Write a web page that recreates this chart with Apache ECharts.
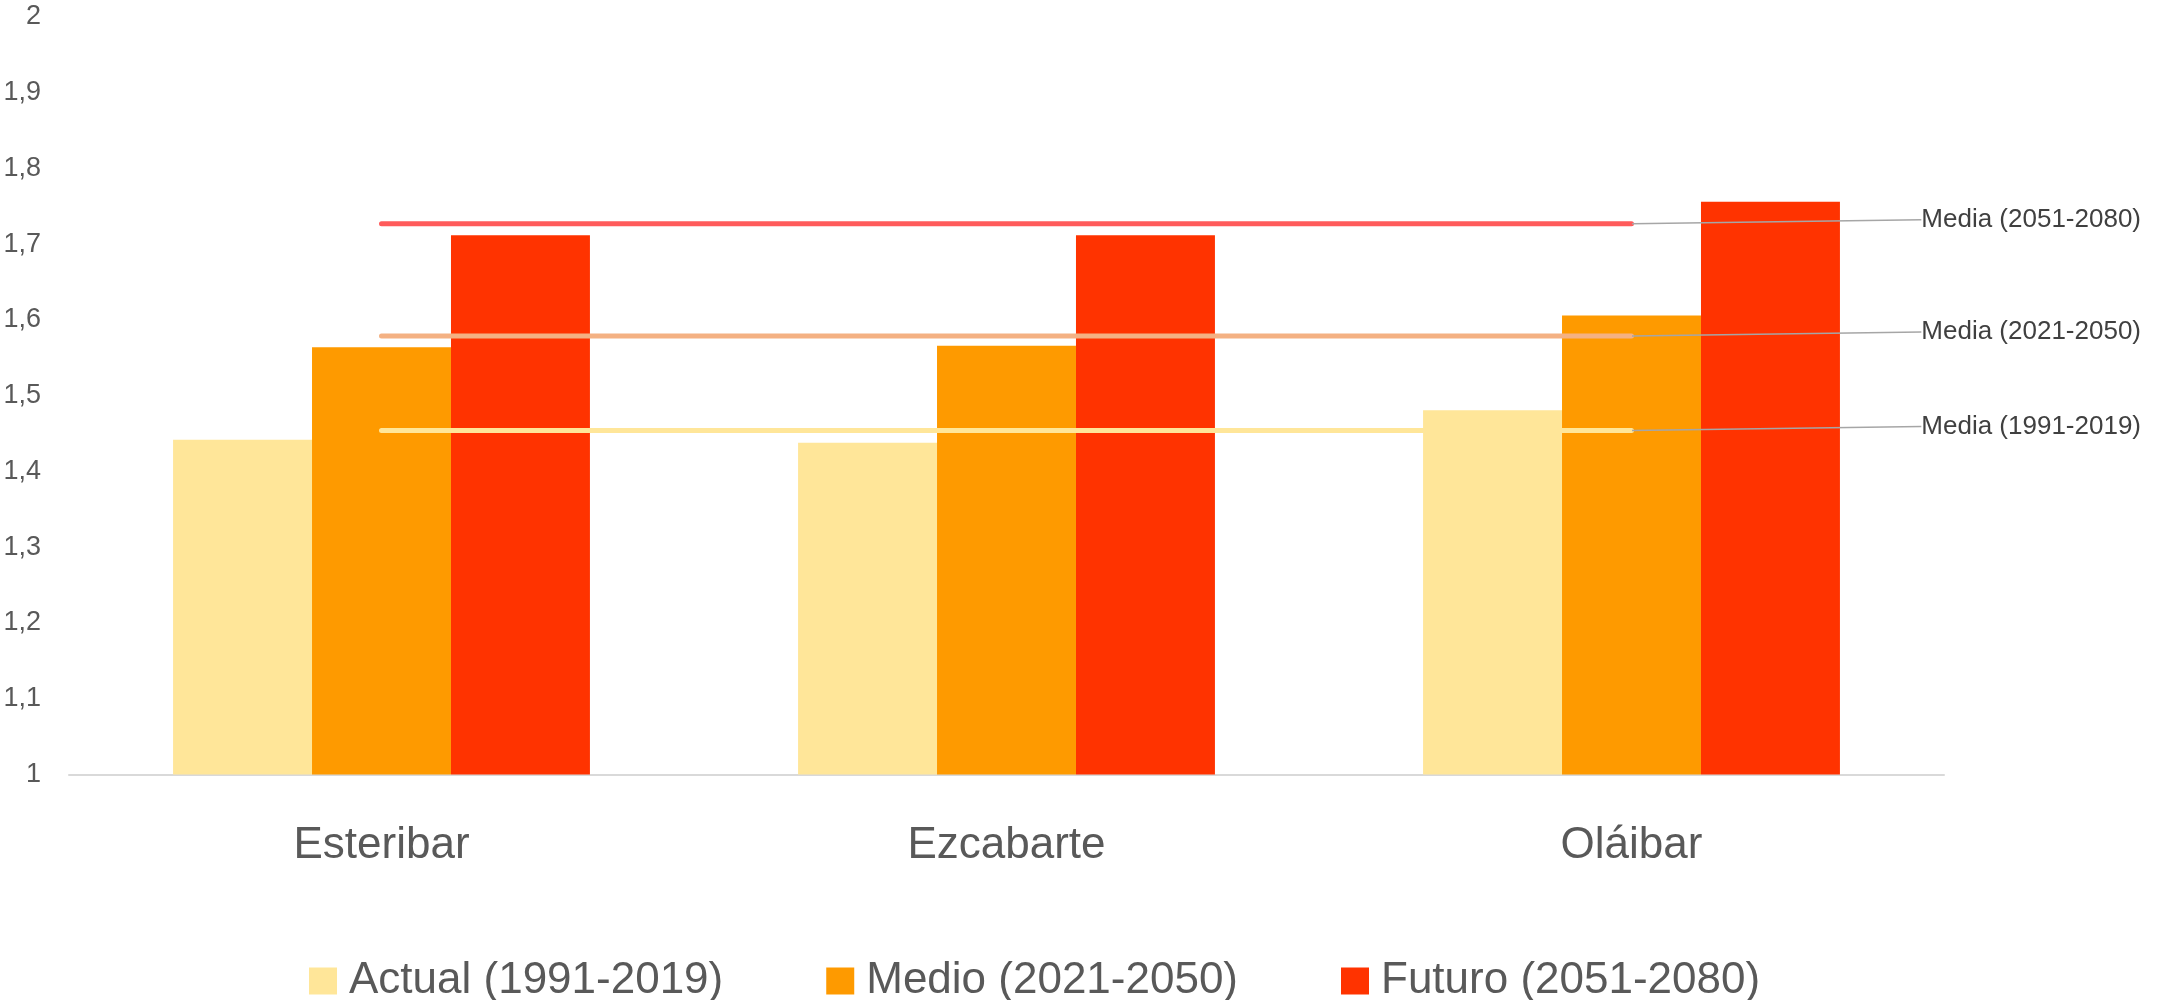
<!DOCTYPE html>
<html>
<head>
<meta charset="utf-8">
<script src="https://cdn.jsdelivr.net/npm/echarts@6/dist/echarts.min.js"></script>
<style>
html,body{margin:0;padding:0;background:#fff;}
#chart{width:2166px;height:1000px;}
</style>
</head>
<body>
<div id="chart"></div>
<script>
const categories = ['Esteribar', 'Ezcabarte', 'Oláibar'];
const seriesNames = ['Actual (1991-2019)', 'Medio (2021-2050)', 'Futuro (2051-2080)'];
const actualValues = [1.442, 1.438, 1.481];
const medioValues = [1.564, 1.566, 1.606];
const futuroValues = [1.712, 1.712, 1.756];
const mediaNames = ['Media (1991-2019)', 'Media (2021-2050)', 'Media (2051-2080)'];
const mediaActual = [1.454, 1.454, 1.454];
const mediaMedio = [1.579, 1.579, 1.579];
const mediaFuturo = [1.727, 1.727, 1.727];

const FONT = '"Liberation Sans", Arial, sans-serif';
const chart = echarts.init(document.getElementById('chart'), null, {renderer: 'canvas'});

function barSeries(name, values, color) {
  return {
    name: name, type: 'bar', data: values,
    barGap: '0%', barCategoryGap: '33.3%',
    itemStyle: {color: color},
    z: 2
  };
}
function mediaSeries(name, values, color) {
  return {
    name: name, type: 'line', z: 4,
    data: values.map((v, i) => i === values.length - 1
      ? {value: v, label: {show: true}}
      : {value: v}),
    symbol: 'circle', symbolSize: 1, showSymbol: true,
    itemStyle: {color: color},
    lineStyle: {color: color, width: 5, cap: 'round'},
    label: {
      show: false, position: 'right',
      formatter: name,
      fontFamily: FONT, fontSize: 26, color: '#404040',
      verticalAlign: 'middle',
      padding: [0, 0, 0, 10]
    },
    labelLine: {show: true, length2: 0, lineStyle: {color: '#A6A6A6', width: 1.5}},
    labelLayout: function () {
      return {x: chart.getWidth() - 25, dy: -4, align: 'right', verticalAlign: 'middle'};
    },
    emphasis: {disabled: true}
  };
}

chart.setOption({
  animation: false,
  backgroundColor: '#ffffff',
  grid: {left: 69, right: 222, top: 17, bottom: 225.5},
  legend: {
    data: seriesNames,
    left: 309, top: 959, padding: 0,
    icon: 'rect', itemWidth: 28, itemHeight: 27, itemGap: 103,
    textStyle: {fontFamily: FONT, fontSize: 44, color: '#595959', lineHeight: 44, padding: [0, 0, 0, 7]}
  },
  xAxis: {
    type: 'category', data: categories,
    axisLine: {show: true, lineStyle: {color: '#D9D9D9', width: 2}},
    axisTick: {show: false},
    axisLabel: {fontFamily: FONT, fontSize: 44, color: '#595959', margin: 49, lineHeight: 44},
    splitLine: {show: false}
  },
  yAxis: {
    type: 'value', min: 1, max: 2, interval: 0.1,
    axisLine: {show: false}, axisTick: {show: false},
    splitLine: {show: false},
    axisLabel: {
      fontFamily: FONT, fontSize: 27, color: '#595959', margin: 28,
      formatter: v => String(Math.round(v * 10) / 10).replace('.', ',')
    }
  },
  series: [
    barSeries(seriesNames[0], actualValues, '#FFE699'),
    barSeries(seriesNames[1], medioValues, '#FE9A00'),
    barSeries(seriesNames[2], futuroValues, '#FF3300'),
    mediaSeries(mediaNames[0], mediaActual, '#FFE699'),
    mediaSeries(mediaNames[1], mediaMedio, '#F4B183'),
    mediaSeries(mediaNames[2], mediaFuturo, '#FF5B5B')
  ]
});
</script>
</body>
</html>
